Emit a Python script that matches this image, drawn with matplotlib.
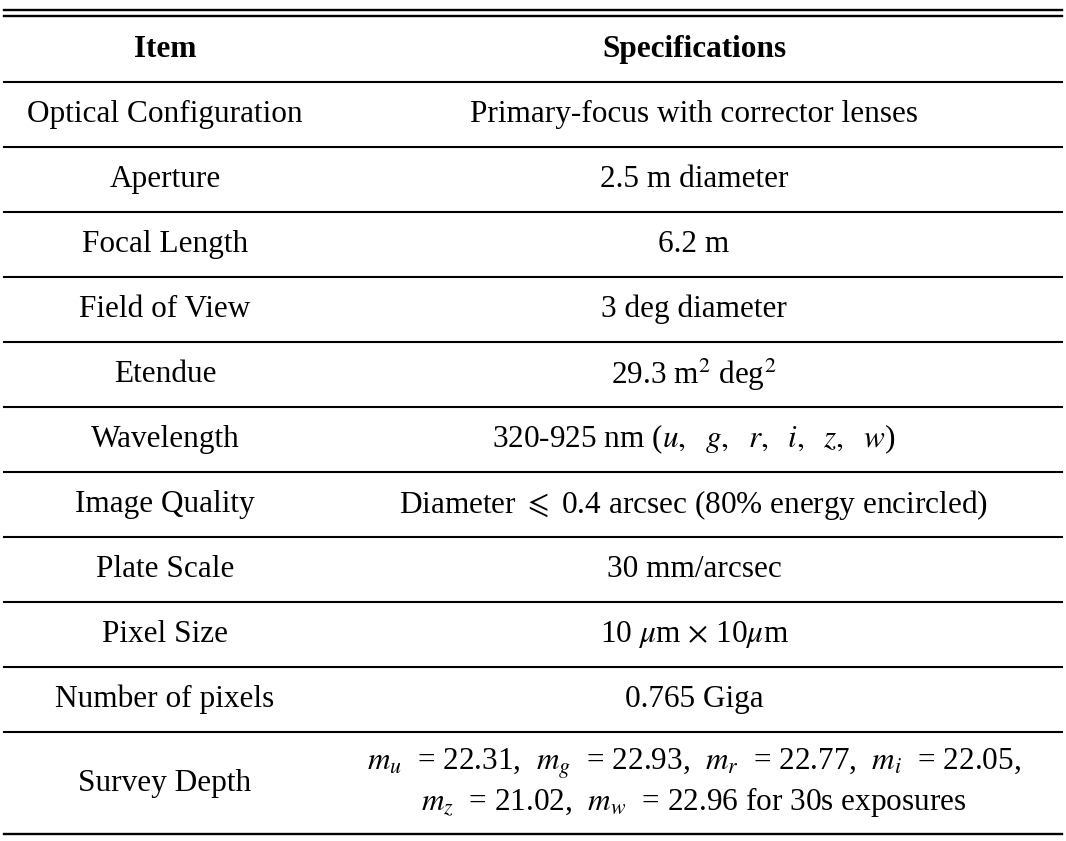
import matplotlib
matplotlib.use("Agg")
import matplotlib.pyplot as plt

plt.rcParams['font.family'] = ['Liberation Serif', 'DejaVu Serif']
plt.rcParams['mathtext.fontset'] = 'stix'

header = ["Item", "Specifications"]
items = ["Optical Configuration", "Aperture", "Focal Length", "Field of View",
         "Etendue", "Wavelength", "Image Quality", "Plate Scale", "Pixel Size",
         "Number of pixels", "Survey Depth"]
specs = ["Primary-focus with corrector lenses",
         "2.5 m diameter",
         "6.2 m",
         "3 deg diameter",
         r"29.3 m$^2$ deg$^2$",
         r"320-925 nm ($u,\ \ g,\ \ r,\ \ i,\ \ z,\ \ w$)",
         r"Diameter $\leqslant$ 0.4 arcsec (80% energy encircled)",
         "30 mm/arcsec",
         r"10 $\mu$m $\times$ 10$\mu$m",
         "0.765 Giga",
         r"$m_u\ $ = 22.31, $\ m_g\ $ = 22.93, $\ m_r\ $ = 22.77, $\ m_i\ $ = 22.05," "\n"
         r"$m_z\ $ = 21.02, $\ m_w\ $ = 22.96 for 30s exposures"]

W, H = 1066, 841
fig = plt.figure(figsize=(W / 100, H / 100), dpi=100)
ax = fig.add_axes([0, 0, 1, 1])
ax.set_xlim(0, W)
ax.set_ylim(H, 0)
ax.axis('off')

x0, x1 = 4, 1062
col1, col2 = 165, 694
fs = 22.5

# rules
for y, lw in [(10, 1.7), (16, 1.7), (82, 1.5)]:
    ax.plot([x0, x1], [y, y], color='black', lw=lw)
row_h = 65
ytop = 82
for i, (it, sp) in enumerate(zip(items, specs)):
    if i < len(items) - 1:
        yc = ytop + row_h * (i + 0.5)
        ax.plot([x0, x1], [ytop + row_h * (i + 1)] * 2, color='black', lw=1.5)
    else:
        yb = ytop + row_h * i
        yc = (yb + 834) / 2
    ax.text(col1, yc, it, ha='center', va='center', fontsize=fs)
    ax.text(col2, yc, sp, ha='center', va='center', fontsize=fs,
            linespacing=1.1)
ax.plot([x0, x1], [834, 834], color='black', lw=1.7)

ax.text(col1, 49, header[0], ha='center', va='center', fontsize=fs, fontweight='bold')
ax.text(col2, 49, header[1], ha='center', va='center', fontsize=fs, fontweight='bold')

fig.savefig("out.png", dpi=100)
